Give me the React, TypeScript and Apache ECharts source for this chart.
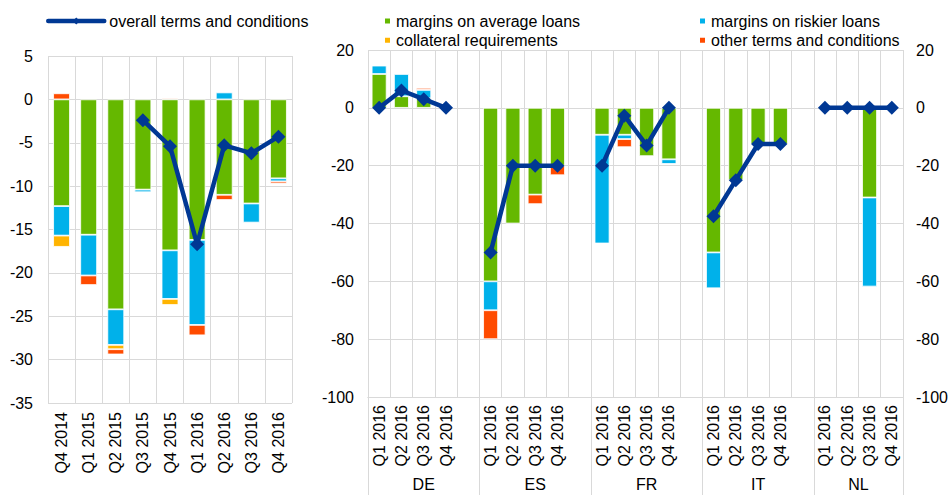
import React, { useEffect, useRef } from 'react';
import * as echarts from 'echarts';

// ---------- Left panel (euro area) ----------
const leftQuarters = ['Q4 2014', 'Q1 2015', 'Q2 2015', 'Q3 2015', 'Q4 2015', 'Q1 2016', 'Q2 2016', 'Q3 2016', 'Q4 2016'];
const leftAvgLoans = [-12.3, -15.6, -24.2, -10.4, -17.4, -16.2, -11.0, -12.0, -9.1];
const leftRiskier = [-3.4, -4.7, -4.1, -0.3, -5.6, -9.8, 0.8, -2.2, -0.35];
const leftCollateral = [-1.3, 0, -0.5, 0, -0.7, 0, 0, 0, 0];
const leftOther = [0.7, -1.1, -0.6, 0, 0.15, -1.2, -0.6, 0, -0.25];
const leftOverall = [null, null, null, -2.4, -5.4, -16.7, -5.3, -6.2, -4.3];

// ---------- Right panel (countries) ----------
const countries = ['DE', 'ES', 'FR', 'IT', 'NL'];
const countryQuarters = ['Q1 2016', 'Q2 2016', 'Q3 2016', 'Q4 2016'];
const rAvgLoans = [
  [11.7, 4.0, 3.3, 0],
  [-60, -40, -30, -20],
  [-9.3, -9.3, -16.7, -17.8],
  [-50, -25, -12.6, -12.5],
  [0, 0, -31, 0],
];
const rRiskier = [
  [2.9, 7.7, 2.9, 0],
  [-10, 0, 0, 0],
  [-37.6, -1.5, 0, -1.6],
  [-12.4, 0, 0, 0],
  [0, 0, -30.8, 0],
];
const rCollateral = [
  [0, 0, 0, 0],
  [0, 0, 0, 0],
  [0, 0, 0, 0],
  [0, 0, 0, 0],
  [0, 0, 0, 0],
];
const rOther = [
  [0, 0, 0.7, 0],
  [-10, 0, -3.3, -3.3],
  [0, -2.8, 0, 0],
  [0, 0, 0, 0],
  [0, 0, 0, 0],
];
const rOverall = [
  [0, 6, 3, 0],
  [-50, -20, -20, -20],
  [-20, -2.7, -13, 0],
  [-37.5, -25, -12.5, -12.5],
  [0, 0, 0, 0],
];

const leftTicks = { min: -35, max: 5, interval: 5 };
const rightTicks = { min: -100, max: 20, interval: 20 };

const NAMES = {
  overall: 'overall terms and conditions',
  avg: 'margins on average loans',
  risk: 'margins on riskier loans',
  coll: 'collateral requirements',
  other: 'other terms and conditions',
};
const COLORS = {
  overall: '#003894',
  avg: '#65b800',
  risk: '#00b1ea',
  coll: '#ffb400',
  other: '#ff4b00',
};
const FONT = '"Liberation Sans", Arial, sans-serif';
const GRID_COLOR = '#d9d9d9';

export default function App() {
  const ref = useRef<HTMLDivElement>(null);

  useEffect(() => {
    document.body.style.margin = '0';
    const chart = echarts.init(ref.current!, null, { renderer: 'svg' });

    const nz = (v: number | null) => (v === 0 ? null : v);

    // Build 24 slots: 4 quarters per country + one blank slot between countries
    const slotKeys: string[] = [];
    const groupStarts: number[] = [];
    const groupEnds: number[] = [];
    countries.forEach((c, i) => {
      groupStarts.push(slotKeys.length);
      countryQuarters.forEach((q) => slotKeys.push(c + '|' + q));
      if (i < countries.length - 1) slotKeys.push(c + '|blank');
      groupEnds.push(slotKeys.length);
    });
    const flatten = (arr: number[][], zeroToNull: boolean) => {
      const out: (number | null)[] = [];
      arr.forEach((vals, i) => {
        vals.forEach((v) => out.push(zeroToNull ? nz(v) : v));
        if (i < arr.length - 1) out.push(null);
      });
      return out;
    };
    const groupCenters = groupStarts.map((s, i) => (s + groupEnds[i]) / 2);
    const groupTickValues = [...groupStarts, groupEnds[groupEnds.length - 1]];

    const axisLabelStyle = { fontFamily: FONT, fontSize: 16, color: '#000' };

    const barItem = (color: string) => ({ color, borderColor: '#ffffff', borderWidth: 0.8 });

    const leftBars = [
      ['avg', leftAvgLoans],
      ['risk', leftRiskier],
      ['coll', leftCollateral],
      ['other', leftOther],
    ].map(([k, arr]: any) => ({
      type: 'bar',
      name: (NAMES as any)[k],
      xAxisIndex: 0,
      yAxisIndex: 0,
      stack: 'left',
      barCategoryGap: '38%',
      data: arr.map(nz),
      itemStyle: barItem((COLORS as any)[k]),
    }));

    const rightBars = [
      ['avg', rAvgLoans],
      ['risk', rRiskier],
      ['coll', rCollateral],
      ['other', rOther],
    ].map(([k, arr]: any) => ({
      type: 'bar',
      name: (NAMES as any)[k],
      xAxisIndex: 1,
      yAxisIndex: 1,
      stack: 'right',
      barCategoryGap: '33%',
      data: flatten(arr, true),
      itemStyle: barItem((COLORS as any)[k]),
    }));

    const lineCommon = {
      type: 'line',
      name: NAMES.overall,
      symbol: 'diamond',
      symbolSize: 14,
      connectNulls: false,
      z: 10,
      lineStyle: { color: COLORS.overall, width: 4.5 },
      itemStyle: { color: COLORS.overall },
    };

    const legendText = { fontFamily: FONT, fontSize: 16, color: '#000', lineHeight: 16 };

    const option: any = {
      animation: false,
      textStyle: { fontFamily: FONT },
      legend: [
        {
          data: [NAMES.overall],
          left: 41,
          top: 8,
          itemWidth: 56,
          itemHeight: 9,
          lineStyle: { width: 4.5, color: COLORS.overall, cap: 'round' },
          textStyle: legendText,
        },
        {
          data: [NAMES.avg, NAMES.coll],
          orient: 'vertical',
          left: 378,
          top: 8,
          itemGap: 3.3,
          itemWidth: 7,
          itemHeight: 7,
          icon: 'rect',
          textStyle: legendText,
        },
        {
          data: [NAMES.risk, NAMES.other],
          orient: 'vertical',
          left: 693,
          top: 8,
          itemGap: 3.3,
          itemWidth: 7,
          itemHeight: 7,
          icon: 'rect',
          textStyle: legendText,
        },
      ],
      grid: [
        { left: 48, top: 56, width: 244, height: 347 },
        { left: 368, top: 50, width: 536, height: 347 },
      ],
      xAxis: [
        {
          type: 'category',
          gridIndex: 0,
          data: leftQuarters,
          boundaryGap: true,
          axisLine: { show: false },
          axisTick: { show: false },
          axisLabel: { ...axisLabelStyle, rotate: 90, interval: 0, margin: 9 },
          splitLine: { show: true, lineStyle: { color: GRID_COLOR, width: 1 } },
        },
        {
          type: 'category',
          gridIndex: 1,
          data: slotKeys,
          boundaryGap: true,
          axisLine: { show: true, onZero: false, lineStyle: { color: GRID_COLOR, width: 1 } },
          axisTick: { show: false },
          axisLabel: {
            ...axisLabelStyle,
            rotate: 90,
            interval: 0,
            margin: 8,
            formatter: (v: string) => {
              const q = v.split('|')[1];
              return q === 'blank' ? '' : q;
            },
          },
          splitLine: { show: true, interval: 0, lineStyle: { color: GRID_COLOR, width: 1 } },
        },
        {
          type: 'value',
          gridIndex: 1,
          position: 'bottom',
          min: 0,
          max: slotKeys.length,
          axisLine: { show: true, onZero: false, lineStyle: { color: GRID_COLOR, width: 1 } },
          splitLine: { show: false },
          axisTick: {
            show: true,
            inside: false,
            length: 100,
            customValues: groupTickValues,
            lineStyle: { color: GRID_COLOR, width: 1 },
          },
          axisLabel: {
            ...axisLabelStyle,
            customValues: groupCenters,
            margin: 79,
            formatter: (v: number) => {
              const idx = groupCenters.indexOf(v);
              return idx >= 0 ? countries[idx] : '';
            },
          },
        },
      ],
      yAxis: [
        {
          type: 'value',
          gridIndex: 0,
          ...leftTicks,
          axisLine: { show: false },
          axisTick: { show: false },
          axisLabel: { ...axisLabelStyle, margin: 15 },
          splitLine: { show: true, lineStyle: { color: GRID_COLOR, width: 1 } },
        },
        {
          type: 'value',
          gridIndex: 1,
          position: 'left',
          ...rightTicks,
          axisLine: { show: false },
          axisTick: { show: false },
          axisLabel: { ...axisLabelStyle, margin: 14 },
          splitLine: { show: true, lineStyle: { color: GRID_COLOR, width: 1 } },
        },
        {
          type: 'value',
          gridIndex: 1,
          position: 'right',
          ...rightTicks,
          axisLine: { show: false },
          axisTick: { show: false },
          axisLabel: { ...axisLabelStyle, margin: 13 },
          splitLine: { show: false },
        },
      ],
      series: [
        ...leftBars,
        { ...lineCommon, xAxisIndex: 0, yAxisIndex: 0, data: leftOverall },
        ...rightBars,
        { ...lineCommon, xAxisIndex: 1, yAxisIndex: 1, data: flatten(rOverall, false) },
      ],
    };

    chart.setOption(option);
    return () => chart.dispose();
  }, []);

  return <div ref={ref} style={{ width: 951, height: 495 }} />;
}
